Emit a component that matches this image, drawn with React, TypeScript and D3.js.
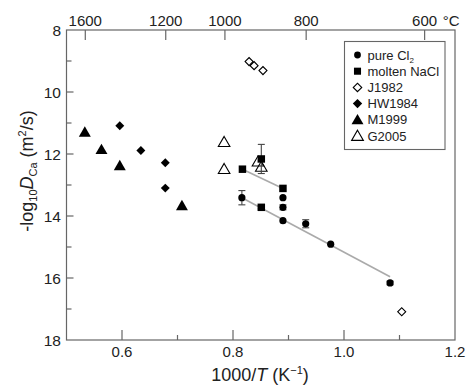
import React, { useEffect, useRef } from 'react';
import * as d3 from 'd3';

// values
const pureCl2 = [
  { x: 0.816, y: 13.41, err: 0.23 },
  { x: 0.890, y: 13.41, err: 0 },
  { x: 0.890, y: 13.72, err: 0.08 },
  { x: 0.890, y: 14.15, err: 0 },
  { x: 0.931, y: 14.25, err: 0.13 },
  { x: 0.976, y: 14.91, err: 0 },
  { x: 1.083, y: 16.16, err: 0.06 },
];
const moltenNaCl = [
  { x: 0.817, y: 12.49, err: 0 },
  { x: 0.851, y: 12.16, err: 0.47 },
  { x: 0.890, y: 13.11, err: 0 },
  { x: 0.851, y: 13.72, err: 0.05 },
];
const j1982 = [[0.829, 9.02], [0.838, 9.15], [0.854, 9.31], [1.104, 17.09]];
const hw1984 = [[0.596, 11.09], [0.634, 11.89], [0.678, 12.28], [0.678, 13.10]];
const m1999 = [[0.533, 11.33], [0.563, 11.89], [0.596, 12.41], [0.708, 13.70]];
const g2005 = [[0.784, 11.65], [0.784, 12.52], [0.845, 12.28], [0.851, 12.45]];
const fitCl2 = [[0.816, 13.41], [1.083, 15.96]];
const fitNaCl = [[0.817, 12.49], [0.890, 13.11]];

const xMajor = [0.6, 0.8, 1.0, 1.2];
const xMinor = [0.7, 0.9, 1.1];
const yMajor = [8, 10, 12, 14, 16, 18];
const yMinor = [9, 11, 13, 15, 17];
const tempTicks = [1600, 1200, 1000, 800, 600];

const App = () => {
  const ref = useRef(null);

  useEffect(() => {
    const width = 467;
    const height = 386;
    const m = { left: 66.5, right: 455, top: 30, bottom: 340 };
    const font = 'Liberation Sans, Arial, sans-serif';
    const axisColor = '#666';

    const svg = d3.select(ref.current);
    svg.selectAll('*').remove();
    svg.attr('width', width).attr('height', height);

    const x = d3.scaleLinear().domain([0.5, 1.2]).range([m.left, m.right]);
    const y = d3.scaleLinear().domain([8, 18]).range([m.top, m.bottom]);

    // frame
    svg.append('rect')
      .attr('x', m.left).attr('y', m.top)
      .attr('width', m.right - m.left).attr('height', m.bottom - m.top)
      .attr('fill', 'none').attr('stroke', axisColor).attr('stroke-width', 1.2);

    // bottom ticks (inward)
    xMajor.filter(v => v < 1.2).forEach(v => {
      svg.append('line').attr('x1', x(v)).attr('x2', x(v))
        .attr('y1', m.bottom).attr('y2', m.bottom - 10)
        .attr('stroke', axisColor).attr('stroke-width', 1.2);
    });
    xMinor.forEach(v => {
      svg.append('line').attr('x1', x(v)).attr('x2', x(v))
        .attr('y1', m.bottom).attr('y2', m.bottom - 5)
        .attr('stroke', axisColor).attr('stroke-width', 1.2);
    });
    svg.append('g').selectAll('text').data(xMajor).join('text')
      .attr('x', d => x(d)).attr('y', 357)
      .attr('text-anchor', 'middle')
      .attr('font-family', font).attr('font-size', 15).attr('fill', '#222')
      .text(d => d.toFixed(1));

    // left ticks
    yMajor.filter(v => v > 8 && v < 18).forEach(v => {
      svg.append('line').attr('x1', m.left).attr('x2', m.left + 7)
        .attr('y1', y(v)).attr('y2', y(v))
        .attr('stroke', axisColor).attr('stroke-width', 1.2);
    });
    yMinor.forEach(v => {
      svg.append('line').attr('x1', m.left).attr('x2', m.left + 5)
        .attr('y1', y(v)).attr('y2', y(v))
        .attr('stroke', axisColor).attr('stroke-width', 1.2);
    });
    svg.append('g').selectAll('text').data(yMajor).join('text')
      .attr('x', 61).attr('y', d => y(d) + 5.5)
      .attr('text-anchor', 'end')
      .attr('font-family', font).attr('font-size', 15.5).attr('fill', '#222')
      .text(d => d);

    // top temperature axis
    const tx = (t: number) => x(1000 / (t + 273.15));
    tempTicks.forEach(t => {
      svg.append('line').attr('x1', tx(t)).attr('x2', tx(t))
        .attr('y1', m.top).attr('y2', m.top + 10)
        .attr('stroke', axisColor).attr('stroke-width', 1.2);
      svg.append('text')
        .attr('x', tx(t)).attr('y', 26)
        .attr('text-anchor', 'middle')
        .attr('font-family', font).attr('font-size', 15).attr('fill', '#222')
        .text(t);
    });
    svg.append('text')
      .attr('x', tx(600) + 14).attr('y', 26)
      .attr('font-family', font).attr('font-size', 15).attr('fill', '#222')
      .text(' °C').attr('xml:space', 'preserve');

    // axis titles
    const xt = svg.append('text')
      .attr('x', 260).attr('y', 381)
      .attr('text-anchor', 'middle')
      .attr('font-family', font).attr('font-size', 18).attr('fill', '#222');
    xt.append('tspan').text('1000/');
    xt.append('tspan').attr('font-style', 'italic').text('T');
    xt.append('tspan').text(' (K');
    xt.append('tspan').attr('font-size', 11).attr('dy', -7).text('−1');
    xt.append('tspan').attr('dy', 7).text(')');

    const yt = svg.append('text')
      .attr('transform', 'translate(33,171) rotate(-90)')
      .attr('text-anchor', 'middle')
      .attr('font-family', font).attr('font-size', 18).attr('fill', '#222');
    yt.append('tspan').text('-log');
    yt.append('tspan').attr('font-size', 11).attr('dy', 4).text('10');
    yt.append('tspan').attr('font-style', 'italic').attr('dy', -4).text('D');
    yt.append('tspan').attr('font-size', 11).attr('dy', 4).text('Ca');
    yt.append('tspan').attr('dy', -4).text(' (m');
    yt.append('tspan').attr('font-size', 11).attr('dy', -7).text('2');
    yt.append('tspan').attr('dy', 7).text('/s)');

    // fit lines
    const line = d3.line().x(d => x(d[0])).y(d => y(d[1]));
    [fitCl2, fitNaCl].forEach(f => {
      svg.append('path').attr('d', line(f))
        .attr('fill', 'none').attr('stroke', '#aaa').attr('stroke-width', 1.6);
    });

    const sym = (type, size) => d3.symbol().type(type).size(size)();

    // literature data
    svg.append('g').selectAll('path').data(m1999).join('path')
      .attr('transform', d => `translate(${x(d[0])},${y(d[1])})`)
      .attr('d', sym(d3.symbolTriangle, 62)).attr('fill', '#000');
    svg.append('g').selectAll('path').data(hw1984).join('path')
      .attr('transform', d => `translate(${x(d[0])},${y(d[1])}) rotate(45)`)
      .attr('d', sym(d3.symbolSquare, 40)).attr('fill', '#000');
    svg.append('g').selectAll('path').data(j1982).join('path')
      .attr('transform', d => `translate(${x(d[0])},${y(d[1])}) rotate(45)`)
      .attr('d', sym(d3.symbolSquare, 32))
      .attr('fill', 'none').attr('stroke', '#000').attr('stroke-width', 1.1);
    svg.append('g').selectAll('path').data(g2005).join('path')
      .attr('transform', d => `translate(${x(d[0])},${y(d[1])})`)
      .attr('d', sym(d3.symbolTriangle, 58))
      .attr('fill', 'none').attr('stroke', '#000').attr('stroke-width', 1.1);

    // error bars
    const errBars = (data, color) => {
      data.filter(d => d.err > 0).forEach(d => {
        const g = svg.append('g').attr('stroke', color).attr('stroke-width', 1.1);
        g.append('line').attr('x1', x(d.x)).attr('x2', x(d.x))
          .attr('y1', y(d.y - d.err)).attr('y2', y(d.y + d.err));
        [d.y - d.err, d.y + d.err].forEach(v => {
          g.append('line').attr('x1', x(d.x) - 3.5).attr('x2', x(d.x) + 3.5)
            .attr('y1', y(v)).attr('y2', y(v));
        });
      });
    };
    errBars(pureCl2, '#444');
    errBars(moltenNaCl, '#444');

    // this work
    svg.append('g').selectAll('path').data(moltenNaCl).join('path')
      .attr('transform', d => `translate(${x(d.x)},${y(d.y)})`)
      .attr('d', sym(d3.symbolSquare, 56)).attr('fill', '#000');
    svg.append('g').selectAll('circle').data(pureCl2).join('circle')
      .attr('cx', d => x(d.x)).attr('cy', d => y(d.y))
      .attr('r', 3.6).attr('fill', '#000');

    // legend
    const lg = svg.append('g');
    lg.append('rect').attr('x', 344.5).attr('y', 41.5).attr('width', 100.5).attr('height', 108)
      .attr('fill', '#fff').attr('stroke', axisColor).attr('stroke-width', 1.1);
    const rows = ['pure Cl', 'molten NaCl', 'J1982', 'HW1984', 'M1999', 'G2005'];
    const lx = 357.5;
    rows.forEach((r, i) => {
      const ly = 55 + i * 16.2;
      const t = lg.append('text').attr('x', 367.5).attr('y', ly + 4.5)
        .attr('font-family', font).attr('font-size', 13).attr('fill', '#222');
      t.append('tspan').text(r);
      if (i === 0) t.append('tspan').attr('font-size', 8).attr('dy', 3).text('2');
      if (i === 0) lg.append('circle').attr('cx', lx).attr('cy', ly).attr('r', 3.4).attr('fill', '#000');
      if (i === 1) lg.append('path').attr('transform', `translate(${lx},${ly})`).attr('d', sym(d3.symbolSquare, 50)).attr('fill', '#000');
      if (i === 2) lg.append('path').attr('transform', `translate(${lx},${ly}) rotate(45)`).attr('d', sym(d3.symbolSquare, 36))
        .attr('fill', 'none').attr('stroke', '#000').attr('stroke-width', 1.1);
      if (i === 3) lg.append('path').attr('transform', `translate(${lx},${ly}) rotate(45)`).attr('d', sym(d3.symbolSquare, 44)).attr('fill', '#000');
      if (i === 4) lg.append('path').attr('transform', `translate(${lx},${ly + 1})`).attr('d', sym(d3.symbolTriangle, 62)).attr('fill', '#000');
      if (i === 5) lg.append('path').attr('transform', `translate(${lx},${ly + 1})`).attr('d', sym(d3.symbolTriangle, 60))
        .attr('fill', 'none').attr('stroke', '#000').attr('stroke-width', 1.1);
    });
  }, []);

  return <svg ref={ref} style={{ position: 'absolute', left: 0, top: 0 }}></svg>;
};

export default App;
